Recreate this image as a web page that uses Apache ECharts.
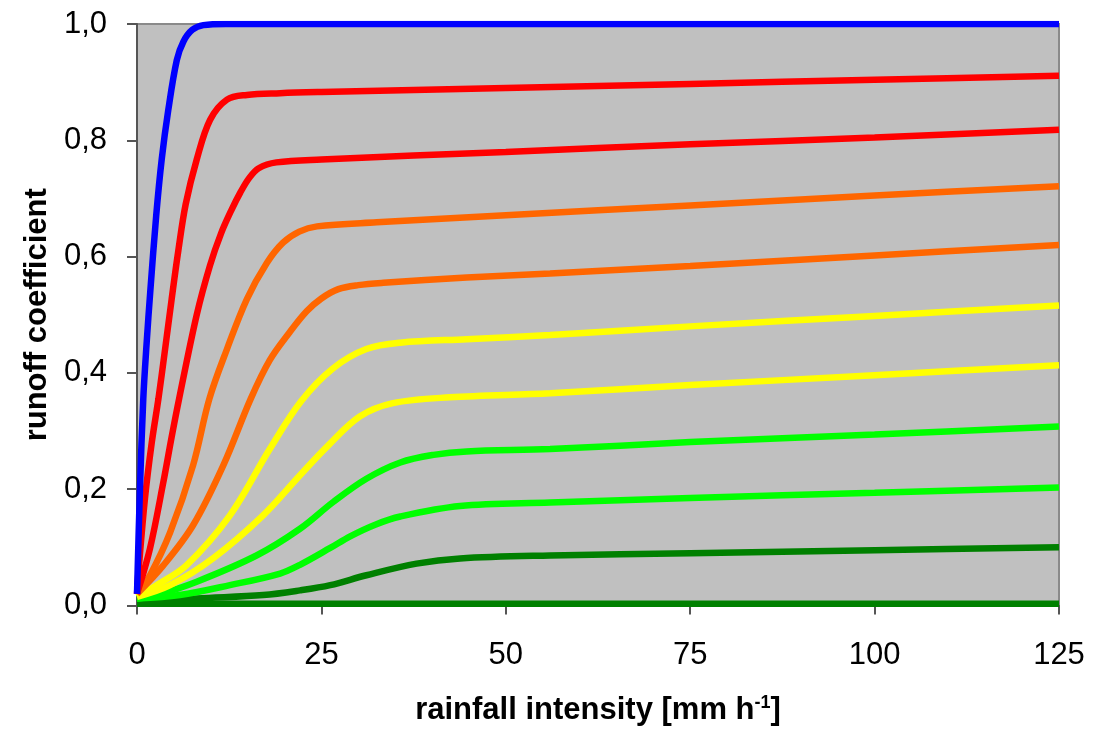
<!DOCTYPE html>
<html>
<head>
<meta charset="utf-8">
<script src="https://cdn.jsdelivr.net/npm/echarts@6/dist/echarts.min.js"></script>
<style>
  html, body { margin: 0; padding: 0; background: #fff; }
  #chart { width: 1093px; height: 731px; }
</style>
</head>
<body>
<div id="chart"></div>
<script>
// x-Achse: Regenintensität [mm/h], y-Achse: Abflussbeiwert
const xTicks = [0, 25, 50, 75, 100, 125];
const yTicks = [0, 0.2, 0.4, 0.6, 0.8, 1.0];

const blue = [[0,0.02],[0.4,0.2],[0.85,0.355],[1.3,0.45],[1.8,0.54],[2.6,0.67],[3.35,0.767],[4.24,0.852],[5.4,0.938],[6.3,0.97],[7.5,0.99],[9,0.998],[12,1],[125,1]];
const red1 = [[0,0.02],[0.2,0.058],[1.08,0.184],[2.0,0.28],[2.9,0.355],[3.8,0.44],[4.7,0.527],[5.6,0.61],[6.6,0.69],[8.1,0.767],[9.9,0.835],[12.2,0.87],[14.9,0.878],[19.4,0.881],[25,0.883],[50,0.89],[75,0.897],[100,0.904],[125,0.911]];
const red2 = [[0,0.02],[1.76,0.098],[3.57,0.212],[4.7,0.29],[5.7,0.355],[8.1,0.5],[9.9,0.585],[11.4,0.64],[12.8,0.68],[14.0,0.71],[15.2,0.735],[16.5,0.752],[18.9,0.762],[25,0.767],[50,0.78],[75,0.793],[100,0.805],[125,0.818]];
const orange1 = [[0,0.02],[1.76,0.052],[4.5,0.126],[7.6,0.241],[9.8,0.355],[12.2,0.441],[14.9,0.527],[17.6,0.589],[19.8,0.624],[22,0.643],[24.4,0.652],[32.5,0.659],[50,0.671],[75,0.688],[100,0.705],[125,0.721]];
const orange2 = [[0,0.02],[3.57,0.069],[7.6,0.138],[11.7,0.241],[15.4,0.355],[18,0.422],[20.7,0.47],[23,0.506],[25,0.528],[27.3,0.544],[30,0.551],[33.4,0.555],[44.7,0.564],[56,0.571],[75,0.584],[100,0.602],[125,0.62]];
const yellow1 = [[0,0.015],[2.67,0.035],[6.7,0.069],[12.6,0.155],[18,0.269],[22.3,0.352],[26.6,0.408],[31.1,0.441],[35.7,0.452],[44.7,0.458],[56,0.465],[75,0.48],[100,0.498],[125,0.516]];
const yellow2 = [[0,0.015],[4.5,0.035],[10.3,0.081],[17.1,0.155],[22.1,0.224],[25.9,0.275],[30.2,0.325],[34.7,0.348],[42.4,0.358],[56,0.365],[75,0.379],[100,0.396],[125,0.413]];
const green1 = [[0,0.012],[2.67,0.018],[8.1,0.041],[16.2,0.086],[22.1,0.132],[26.6,0.178],[31.1,0.218],[35.7,0.246],[40.2,0.259],[44.7,0.265],[56,0.269],[75,0.281],[100,0.294],[125,0.308]];
const green2 = [[0,0.012],[5.8,0.018],[12.6,0.035],[19.4,0.055],[22.1,0.07],[26.2,0.099],[28.9,0.119],[32.3,0.139],[35.7,0.153],[43.8,0.171],[56,0.177],[75,0.185],[100,0.194],[125,0.203]];
const darkgreen = [[0,0.005],[8.1,0.012],[17.1,0.018],[22.1,0.026],[26.2,0.035],[31.1,0.052],[37.9,0.072],[43.8,0.081],[56,0.086],[75,0.09],[100,0.095],[125,0.1]];
const bottom = [[0,0.003],[125,0.003]];

const curves = [
  { data: bottom, color: '#008000' },
  { data: darkgreen, color: '#008000' },
  { data: green2, color: '#00ff00' },
  { data: green1, color: '#00ff00' },
  { data: yellow2, color: '#ffff00' },
  { data: yellow1, color: '#ffff00' },
  { data: orange2, color: '#ff6600' },
  { data: orange1, color: '#ff6600' },
  { data: red2, color: '#ff0000' },
  { data: red1, color: '#ff0000' },
  { data: blue, color: '#0000ff' }
];

const chart = echarts.init(document.getElementById('chart'));

const font = 'Liberation Sans, Arial, sans-serif';

chart.setOption({
  animation: false,
  grid: {
    left: 137, right: 34, top: 24, bottom: 124,
    show: true,
    backgroundColor: '#c0c0c0',
    borderColor: '#8a8a8a',
    borderWidth: 2
  },
  xAxis: {
    type: 'value',
    min: xTicks[0], max: xTicks[xTicks.length - 1], interval: 25,
    name: 'rainfall intensity [mm h{sup|-1}]',
    nameLocation: 'middle',
    nameGap: 89,
    nameTextStyle: {
      fontFamily: font, fontSize: 31, fontWeight: 'bold', color: '#000',
      rich: {
        sup: { fontFamily: font, fontSize: 18, fontWeight: 'bold', color: '#000', verticalAlign: 'top', padding: [0, 0, 14, 0] }
      }
    },
    axisLine: { show: true, lineStyle: { color: '#555', width: 2 } },
    axisTick: { show: true, inside: false, length: 9, lineStyle: { color: '#555', width: 2 } },
    axisLabel: { fontFamily: font, fontSize: 31, color: '#000', margin: 34 },
    splitLine: { show: false }
  },
  yAxis: {
    type: 'value',
    min: yTicks[0], max: yTicks[yTicks.length - 1], interval: 0.2,
    name: 'runoff coefficient',
    nameLocation: 'middle',
    nameGap: 80,
    nameTextStyle: { fontFamily: font, fontSize: 31, fontWeight: 'bold', color: '#000' },
    axisLine: { show: true, lineStyle: { color: '#555', width: 2 } },
    axisTick: { show: true, inside: false, length: 10, lineStyle: { color: '#555', width: 2 } },
    axisLabel: {
      fontFamily: font, fontSize: 31, color: '#000', margin: 30,
      formatter: v => v.toFixed(1).replace('.', ',')
    },
    splitLine: { show: false }
  },
  series: curves.map(c => ({
    type: 'line',
    data: c.data,
    smooth: 0.35,
    symbol: 'none',
    lineStyle: { color: c.color, width: 6.5 },
    itemStyle: { color: c.color }
  }))
});
</script>
</body>
</html>
